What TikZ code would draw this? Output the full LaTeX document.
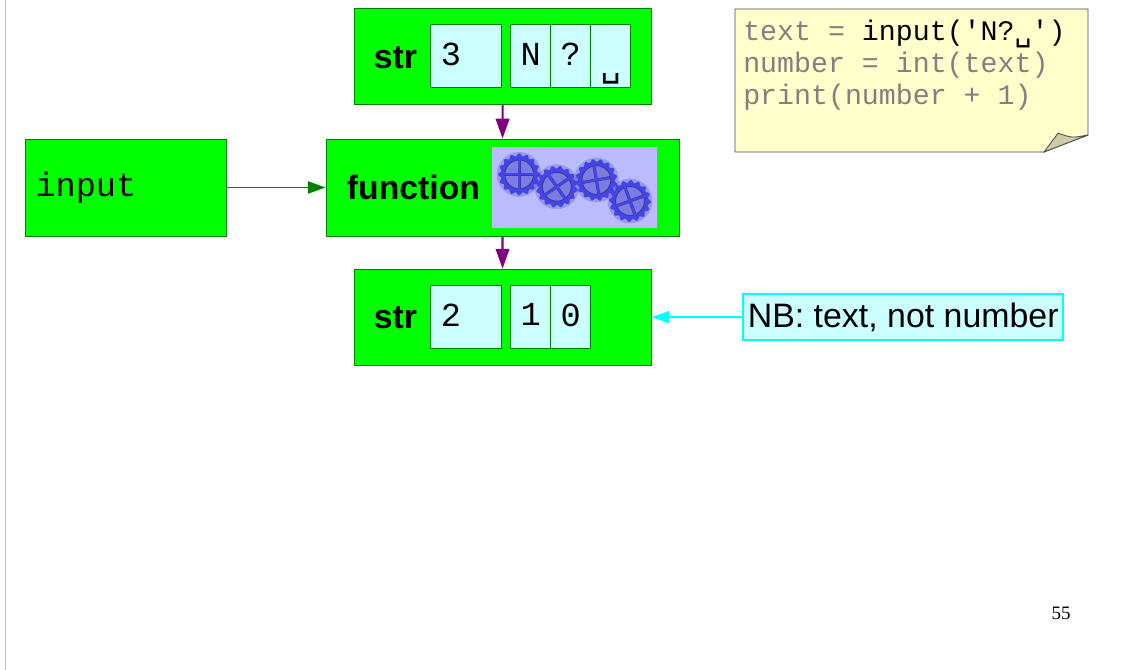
\documentclass[tikz,border=0pt]{standalone}
\usepackage{fontspec}
\setmainfont{Liberation Sans}
\setmonofont{Liberation Mono}
\newfontfamily\pagefont{Liberation Serif}
\newfontfamily\blankfont{DejaVu Sans Mono}
\usetikzlibrary{arrows.meta}

\definecolor{boxgreen}{RGB}{0,255,0}
\definecolor{edgegreen}{RGB}{0,128,0}
\definecolor{cellcyan}{RGB}{204,255,255}
\definecolor{notefill}{RGB}{255,255,204}
\definecolor{foldfill}{RGB}{204,204,170}
\definecolor{gearback}{RGB}{187,187,255}
\definecolor{gearblue}{RGB}{68,68,238}
\definecolor{geardark}{RGB}{60,60,150}
\definecolor{gearhole}{RGB}{125,125,225}
\definecolor{flowpurple}{RGB}{128,0,128}
\definecolor{remarkcyan}{RGB}{0,255,255}

\newcommand{\gear}[3]{
  \begin{scope}[shift={(#1,#2)}, rotate=#3]
    \fill[geardark, opacity=0.25] (0,0) circle (0.56);
    \fill[gearblue] plot[domain=0:360, samples=161] (\x:{0.49+0.035*cos(16*\x)}) -- cycle;
    \draw[geardark, fill=gearhole, line width=0.7] (0,0) circle (0.36);
    \draw[geardark, line width=2.2] (-0.37,0) -- (0.37,0);
    \draw[geardark, line width=2.2] (0,-0.37) -- (0,0.37);
    \draw[gearblue, line width=1.5] (-0.39,0) -- (0.39,0);
    \draw[gearblue, line width=1.5] (0,-0.39) -- (0,0.39);
  \end{scope}
}

\begin{document}
\begin{tikzpicture}

  \tikzstyle{box} = [draw=edgegreen, fill=boxgreen, line width=0.6, minimum height=2.4cm]
  \tikzstyle{cell} = [draw=edgegreen, fill=cellcyan, line width=0.6, minimum height=1.575cm, font=\fontsize{23.9}{28}\ttfamily, inner sep=0, text depth=0.1cm]
  \tikzstyle{wide} = [cell, minimum width=1.775cm, text width=1.275cm, align=left]
  \tikzstyle{narrow} = [cell, minimum width=1cm]
  \tikzstyle{label} = [font=\fontsize{24}{28}\bfseries, inner sep=0]
  \tikzstyle{flow} = [flowpurple, line width=1.5, -{Triangle[length=5mm, width=3.4mm]}]

  \useasboundingbox (0,0) rectangle (28.025,16.75);

  \draw[gray!50, line width=1.4] (0.1375,0) -- (0.1375,16.75);

  % code note
  \draw[fill=notefill, draw=black!70, line width=0.6] (18.375,16.525) -- (27.2,16.525) -- (27.2,13.375) -- (26.1,12.95) -- (18.375,12.95) -- cycle;
  \draw[fill=foldfill, draw=black!70, line width=0.6] (26.1,12.95) -- (26.45,13.42) .. controls (26.8,13.3) .. (27.2,13.375) -- cycle;
  \node[anchor=north west, align=left, inner sep=0, font=\fontsize{20.1}{22.8}\ttfamily, text=gray] (code) at (18.575,16.26) {text = \textcolor{black}{input('N?{\blankfont\raisebox{-0.5pt}{␣}}')}\\number = int(text)\\print(number + 1)};

  % three main boxes
  \node[box, minimum width=5.025cm, minimum height=2.425cm, align=left, text width=4.5cm, font=\fontsize{23.9}{28}\ttfamily] (input) at (3.1375,12.0625) {input};
  \node[box, minimum width=8.825cm, minimum height=2.425cm] (function) at (12.5625,12.0625) {};
  \node[box, minimum width=7.43cm] (strtop) at (12.565,15.34) {};
  \node[box, minimum width=7.43cm] (strbot) at (12.565,8.82) {};

  \node[label] (functionlabel) at (10.3375,12.0625) {function};
  \node[label] (strtoplabel) at (9.8875,15.3) {str};
  \node[label] (strbotlabel) at (9.8875,8.8) {str};

  % gears
  \node[fill=gearback, minimum width=4.125cm, minimum height=2.025cm, inner sep=0] (gearimage) at (14.3625,12.0625) {};
  \gear{12.98}{12.39}{0}
  \gear{13.92}{12.08}{35}
  \gear{14.91}{12.25}{10}
  \gear{15.75}{11.725}{20}

  % cells
  \node[wide] (toplen) at (11.66,15.34) {3};
  \node[narrow] (topa) at (13.27,15.34) {N};
  \node[narrow] (topb) at (14.27,15.34) {?};
  \node[narrow] (topc) at (15.27,15.34) {\raisebox{-0.56cm}{\blankfont ␣}};

  \node[wide] (botlen) at (11.66,8.83) {2};
  \node[narrow] (bota) at (13.27,8.83) {1};
  \node[narrow] (botb) at (14.27,8.83) {0};

  % remark
  \node[draw=remarkcyan, fill=cellcyan, line width=1.4, minimum width=8cm, minimum height=1.15cm, inner sep=0, font=\fontsize{24.1}{28}\selectfont] (remark) at (22.58,8.825) {\raisebox{-0.07cm}{NB: text, not number}};

  \node[font=\fontsize{13.5}{16}\pagefont, inner sep=0] (pagenum) at (26.525,1.425) {55};

  \draw[edgegreen, line width=1.4, -{Triangle[length=4.4mm, width=3mm]}] (input) -- (function);
  \draw[flow] (strtop) -- (function);
  \draw[flow] (function) -- (strbot);
  \draw[remarkcyan, line width=1.4, -{Triangle[length=4.4mm, width=3mm]}] (remark) -- (strbot);

\end{tikzpicture}
\end{document}
